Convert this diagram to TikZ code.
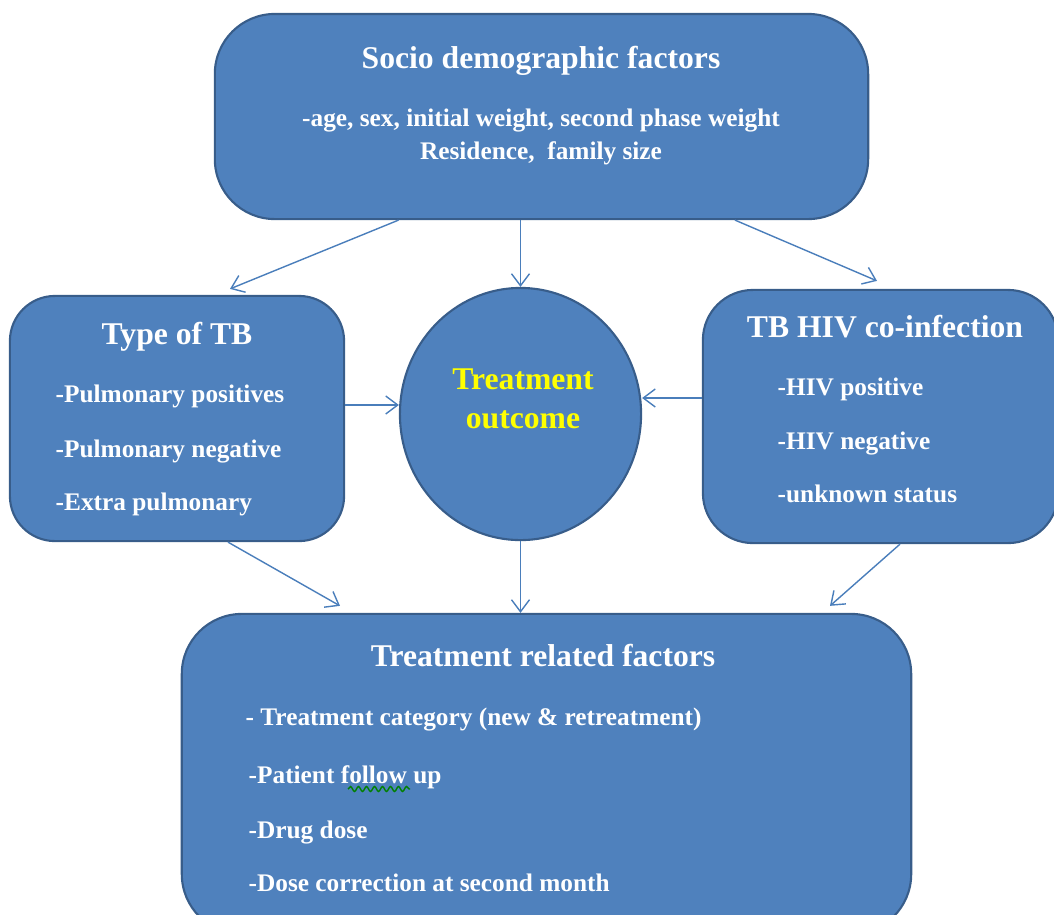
\documentclass[tikz,border=0pt]{standalone}
\usepackage{fontspec}
\setmainfont{Liberation Serif}
\usetikzlibrary{arrows.meta,positioning,shapes.geometric,calc,decorations.pathmorphing}
\definecolor{boxblue}{RGB}{79,129,189}
\definecolor{boxline}{RGB}{56,93,138}
\definecolor{arrowblue}{RGB}{74,126,187}
\definecolor{outyellow}{RGB}{255,255,0}
\tikzset{
	factorbox/.style={rectangle, rounded corners=#1, fill=boxblue, draw=boxline, line width=0.6pt, inner sep=0pt},
	headtxt/.style={text=white, font=\bfseries\fontsize{9}{11}\selectfont, anchor=base, inner sep=0pt},
	itemtxt/.style={text=white, font=\bfseries\fontsize{7.2}{9}\selectfont, anchor=base west, inner sep=0pt},
	arr/.style={draw=arrowblue, line width=0.4pt, -{Straight Barb[length=1.2mm,width=1.8mm]}}
}
\begin{document}
\begin{tikzpicture}[x=0.01cm,y=-0.01cm]
		\useasboundingbox (0,0) rectangle (1054,914);

		% boxes
		\node[factorbox=6mm, minimum width=6.53cm, minimum height=2.05cm] (socio) at (541.5,116.5) {};
		\node[factorbox=4.5mm, minimum width=3.34cm, minimum height=2.45cm] (tb) at (177,418.5) {};
		\node[ellipse, fill=boxblue, draw=boxline, line width=0.6pt, inner sep=0pt, minimum width=2.41cm, minimum height=2.52cm] (outcome) at (520.5,414) {};
		\node[factorbox=5mm, minimum width=3.55cm, minimum height=2.53cm] (hiv) at (880.5,416.5) {};
		\node[factorbox=6mm, minimum width=7.29cm, minimum height=3.2cm] (treat) at (546.5,774) {};

		% texts
		\node[headtxt] (sociohead) at (541,68) {Socio demographic factors};
		\node[itemtxt, anchor=base] (socioa) at (541,126) {-age, sex, initial weight, second phase weight};
		\node[itemtxt, anchor=base] (sociob) at (541,159) {Residence,\ \ family size};

		\node[headtxt] (tbhead) at (177,344) {Type of TB};
		\node[itemtxt] (tba) at (55,402) {-Pulmonary positives};
		\node[itemtxt] (tbb) at (55,457) {-Pulmonary negative};
		\node[itemtxt] (tbc) at (55,510) {-Extra pulmonary};

		\node[headtxt, text=outyellow] (outa) at (523,389) {Treatment};
		\node[headtxt, text=outyellow] (outb) at (523,428) {outcome};

		\node[headtxt] (hivhead) at (885,337) {TB HIV co-infection};
		\node[itemtxt] (hiva) at (777,395) {-HIV positive};
		\node[itemtxt] (hivb) at (777,449) {-HIV negative};
		\node[itemtxt] (hivc) at (777,502) {-unknown status};

		\node[headtxt] (treathead) at (543,666) {Treatment related factors};
		\node[itemtxt] (treata) at (245,725) {- Treatment category (new \& retreatment)};
		\node[itemtxt] (treatb) at (248,783) {-Patient follow up};
		\node[itemtxt] (treatc) at (248,838) {-Drug dose};
		\node[itemtxt] (treatd) at (248,891) {-Dose correction at second month};
		\draw[green!50!black, line width=0.4pt, decorate, decoration={snake, amplitude=0.25mm, segment length=0.8mm}]
			($(treatb.base west)+(100,6)$) -- ($(treatb.base west)+(162,6)$);

		% arrows
		\draw[arr] ($(socio.south)+(-143,0)$) -- ($(tb.north)+(53,-6)$);
		\draw[arr] (outcome.north |- socio.south) -- (outcome.north);
		\draw[arr] ($(socio.south)+(193.5,0)$) -- ($(hiv.north)+(-3.5,-8)$);
		\coordinate (tbout) at ($(tb.east)+(0,-13.5)$);
		\draw[arr] (tbout) -- (outcome.west |- tbout);
		\coordinate (hivout) at ($(hiv.west)+(0,-18.5)$);
		\draw[arr] (hivout) -- (outcome.east |- hivout);
		\draw[arr] ($(tb.south)+(51,0)$) -- ($(treat.north)+(-206.5,-7)$);
		\draw[arr] (outcome.south) -- (outcome.south |- treat.north);
		\draw[arr] ($(hiv.south)+(19.5,0)$) -- ($(treat.north)+(283.5,-7)$);
	\end{tikzpicture}
\end{document}
